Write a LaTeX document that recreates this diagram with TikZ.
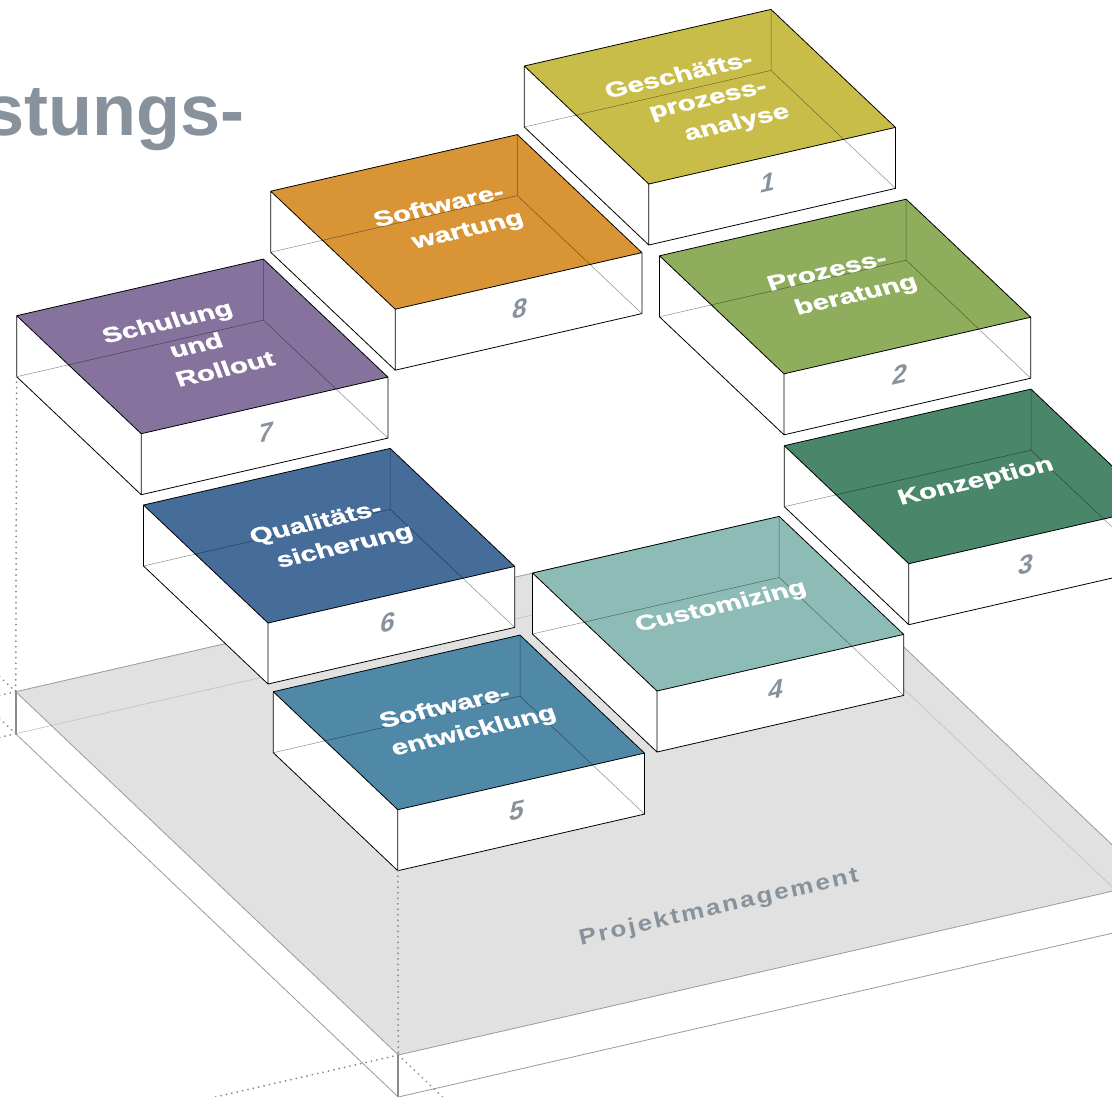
\documentclass[tikz,border=0pt]{standalone}
\usepackage{fontspec}
\setmainfont{Liberation Sans}
\usetikzlibrary{calc}
\definecolor{cOne}{HTML}{C9BD4A}
\definecolor{cTwo}{HTML}{8EAD5D}
\definecolor{cThree}{HTML}{4A866A}
\definecolor{cFour}{HTML}{8DBBB5}
\definecolor{cFive}{HTML}{5089A8}
\definecolor{cSix}{HTML}{466D99}
\definecolor{cSeven}{HTML}{85739D}
\definecolor{cEight}{HTML}{D99535}
\definecolor{slabtop}{HTML}{E1E1E1}
\definecolor{slabedge}{HTML}{9A9A9A}
\definecolor{txtgray}{HTML}{87929C}
\definecolor{guidec}{HTML}{7A8A98}
\tikzset{
  edge/.style={draw=black, line width=0.8pt, line join=round},
  hidden/.style={draw=black, line width=0.5pt, opacity=0.45},
  sedge/.style={draw=slabedge, line width=0.8pt},
  svert/.style={draw=slabedge!90!black, line width=1.8pt},
  shidden/.style={draw=black!25, line width=0.6pt},
  guide/.style={draw=guidec, line width=2pt, dash pattern=on 0.01pt off 5.5pt, line cap=round},
  lbl/.style={text=white, inner sep=0pt, align=center,
              font=\fontsize{29}{39.7}\selectfont\bfseries\addfontfeature{FakeBold=1.2},
              rotate=12.9, yscale=0.74, xslant=-0.1},
  num/.style={text=txtgray, inner sep=0pt, font=\fontsize{26}{26}\selectfont\bfseries,
              yslant=0.229, xslant=0.18},
}
\newcommand{\shl}[2]{\hspace*{#1}#2\hspace*{-#1}}
\newcommand{\isobox}[4]{%
  \coordinate (#1l) at (#2,#3);
  \coordinate (#1b) at ($(#1l)+(246.7,-56.6)$);
  \coordinate (#1f) at ($(#1l)+(124.5,118)$);
  \coordinate (#1r) at ($(#1l)+(371.2,61.4)$);
  \coordinate (#1lb) at ($(#1l)+(0,61)$);
  \coordinate (#1bb) at ($(#1b)+(0,61)$);
  \coordinate (#1fb) at ($(#1f)+(0,61)$);
  \coordinate (#1rb) at ($(#1r)+(0,61)$);
  \fill[white] (#1l) -- (#1f) -- (#1r) -- (#1rb) -- (#1fb) -- (#1lb) -- cycle;
  \fill[#4] (#1l) -- (#1b) -- (#1r) -- (#1f) -- cycle;
  \draw[hidden] (#1lb) -- (#1bb) -- (#1rb) (#1b) -- (#1bb);
  \draw[edge] (#1l) -- (#1b) -- (#1r) -- (#1f) -- cycle
              (#1l) -- (#1lb) -- (#1fb) -- (#1rb) -- (#1r)
              (#1f) -- (#1fb);
}
\begin{document}
\begin{tikzpicture}[x=1pt, y=-1pt]
\useasboundingbox (0,0) rectangle (1112,1096);
\clip (0,0) rectangle (1112,1096);
\fill[white] (0,0) rectangle (1112,1096);

% title
\node[anchor=base east, text=txtgray, inner sep=0pt,
      font=\fontsize{72}{72}\selectfont\bfseries] (title) at (245,135) {stungs-};

% slab (Projektmanagement)
\coordinate (sL) at (15.7,691.7);
\coordinate (sB) at ($(sL)+(753.2,-172.8)$);
\coordinate (sF) at ($(sL)+(382.6,363.3)$);
\coordinate (sR) at ($(sF)+(753.2,-172.8)$);
\coordinate (sLb) at ($(sL)+(0,42)$);
\coordinate (sBb) at ($(sB)+(0,42)$);
\coordinate (sFb) at ($(sF)+(0,42)$);
\coordinate (sRb) at ($(sR)+(0,42)$);
\fill[white] (sL) -- (sF) -- (sR) -- (sRb) -- (sFb) -- (sLb) -- cycle;
\fill[slabtop] (sL) -- (sB) -- (sR) -- (sF) -- cycle;
\draw[shidden] (sLb) -- (sBb) -- (sRb) (sB) -- (sBb);
\draw[sedge] (sL) -- (sB) -- (sR) -- (sF) -- cycle
             (sLb) -- (sFb) -- (sRb);
\draw[svert] (sL) -- (sLb) (sF) -- (sFb);
\node[text=txtgray, inner sep=0pt, font=\fontsize{26}{26}\selectfont\bfseries\addfontfeature{LetterSpace=9},
      rotate=12.9, yscale=0.85] (pm) at (719,908) {Projektmanagement};

% guide lines
\draw[guide] (sL) -- ++(-246.7,56.6) (sL) -- ++(-124.5,-118);
\draw[guide] (sLb) -- ++(-246.7,56.6) (sLb) -- ++(-124.5,-118);
\draw[guide] (sF) -- ++(-246.7,56.6) (sF) -- ++(124.5,118);

% boxes, back to front
\isobox{bA}{524.3}{66}{cOne}
\isobox{bH}{270.7}{191.2}{cEight}
\isobox{bB}{659.5}{255.8}{cTwo}
\isobox{bG}{16.7}{315.7}{cSeven}
\isobox{bC}{784.3}{445.7}{cThree}
\isobox{bF}{143.5}{505}{cSix}
\isobox{bD}{532.5}{573}{cFour}
\isobox{bE}{273.3}{691.7}{cFive}

\draw[guide] (bGlb) -- (sL);
\draw[guide] (bEfb) -- (sF);

% labels
\node[lbl] (l1) at (708,100) {\shl{-19pt}{Geschäfts-}\\\shl{0pt}{prozess-}\\\shl{19pt}{analyse}};
\node[lbl] (l8) at (453.5,219) {\shl{-9.5pt}{Software-}\\\shl{9.5pt}{wartung}};
\node[lbl] (l7) at (196,345) {\shl{-19pt}{Schulung}\\\shl{0pt}{und}\\\shl{19pt}{Rollout}};
\node[lbl] (l2) at (842,284.5) {\shl{-9.5pt}{Prozess-}\\\shl{9.5pt}{beratung}};
\node[lbl] (l3) at (976,482) {Konzeption};
\node[lbl] (l6) at (330.5,535.5) {\shl{-9.5pt}{Qualitäts-}\\\shl{9.5pt}{sicherung}};
\node[lbl] (l4) at (721,607) {Customizing};
\node[lbl] (l5) at (459.5,720) {\shl{-9.5pt}{Software-}\\\shl{9.5pt}{entwicklung}};

% numbers
\node[num] (n1) at (768,183) {1};
\node[num] (n2) at (900,374) {2};
\node[num] (n3) at (1026,565) {3};
\node[num] (n4) at (776,690) {4};
\node[num] (n5) at (517,811) {5};
\node[num] (n6) at (388,623) {6};
\node[num] (n7) at (266,433) {7};
\node[num] (n8) at (520,309) {8};
\end{tikzpicture}
\end{document}
